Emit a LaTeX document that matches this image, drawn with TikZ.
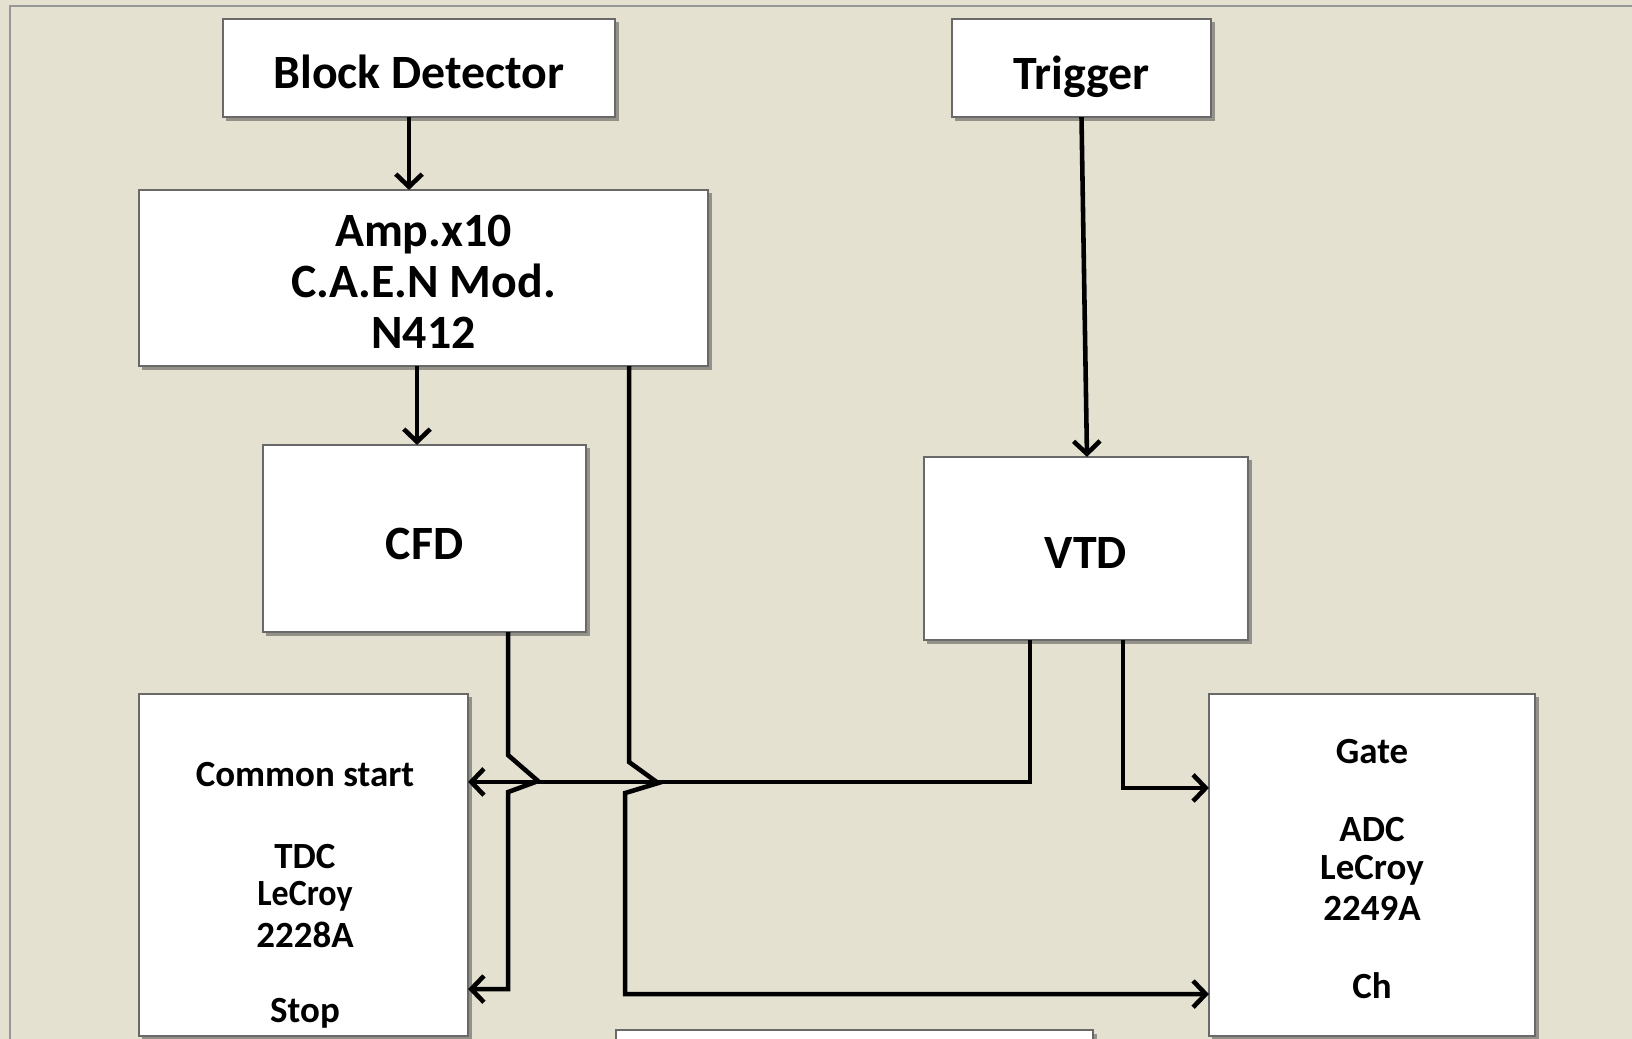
\documentclass[tikz,border=0pt]{standalone}
\usepackage{fontspec}
\setmainfont{Carlito}
\usetikzlibrary{arrows.meta,shadows}
\definecolor{bg}{RGB}{228,225,209}
\definecolor{framec}{RGB}{150,150,150}
\definecolor{boxline}{RGB}{105,105,105}
\newcommand{\dn}[2]{\raisebox{-#1}[\height][\depth]{#2}}
\begin{document}
\begin{tikzpicture}[x=0.01cm,y=-0.01cm,
  box/.style={draw=boxline, line width=0.6pt, fill=white, inner sep=0pt, outer sep=0pt,
    font=\bfseries\fontsize{13.6}{14.5}\selectfont, align=center,
    drop shadow={shadow xshift=0.35mm, shadow yshift=-0.35mm, opacity=0.35, fill=black}},
  lbl/.style={font=\bfseries\fontsize{10.5}{12}\selectfont, inner sep=0pt},
  conn/.style={line width=1.3pt, black, line join=miter},
  arr/.style={conn, -{Straight Barb[length=3.6pt,width=7.5pt,line width=1.3pt]}}]
\clip (0,0) rectangle (1632,1039);
\fill[bg] (0,0) rectangle (1632,1039);
\draw[framec, line width=0.6pt] (10,6) rectangle (1660,1070);

% boxes
\node[box, minimum width=39.2mm, minimum height=9.8mm] (bd) at (419,68) {\dn{0.42mm}{Block Detector}};
\node[box, minimum width=25.9mm, minimum height=9.8mm] (trig) at (1081.5,68) {\dn{0.83mm}{Trigger}};
\node[box, minimum width=56.9mm, minimum height=17.6mm] (amp) at (423.5,278) {\dn{0.94mm}{\begin{tabular}{@{}c@{}}Amp.x10\\C.A.E.N Mod.\\N412\end{tabular}}};
\node[box, minimum width=32.3mm, minimum height=18.7mm] (cfd) at (424.5,538.5) {\dn{0.52mm}{CFD}};
\node[box, minimum width=32.4mm, minimum height=18.3mm] (vtd) at (1086,548.5) {\dn{0.42mm}{VTD}};
\node[box, minimum width=32.9mm, minimum height=34.2mm] (tdc) at (303.5,865) {};
\node[box, minimum width=32.6mm, minimum height=34.2mm] (adc) at (1372,865) {};
\node[box, minimum width=47.7mm, minimum height=3mm] (bot) at (854.5,1045) {};

% TDC labels
\node[lbl] (tdcA) at (305,775) {Common start};
\node[lbl] (tdcB) at (305,857) {TDC};
\node[lbl] (tdcC) at (305,896) {\scalebox{0.92}[1]{LeCroy}};
\node[lbl] (tdcD) at (305,935) {2228A};
\node[lbl] (tdcE) at (305,1013) {Stop};
% ADC labels
\node[lbl] (adcA) at (1372,752) {Gate};
\node[lbl] (adcB) at (1372,830) {ADC};
\node[lbl] (adcC) at (1372,870) {LeCroy};
\node[lbl] (adcD) at (1372,908) {2249A};
\node[lbl] (adcE) at (1372,986) {Ch};

% connectors
\draw[arr] ([xshift=-1mm]bd.south) -- ([xshift=-1mm]bd.south |- amp.north);
\draw[arr] ([xshift=-0.65mm]amp.south) -- ([xshift=-0.65mm]amp.south |- cfd.north);
\draw[arr] (trig.south) -- ([xshift=0.1mm]vtd.north);
\draw[arr] ([xshift=-5.6mm]vtd.south) |- ([yshift=8.3mm]tdc.east);
\draw[arr] ([xshift=3.7mm]vtd.south) |- ([yshift=7.7mm]adc.west);
\draw[arr] ([xshift=8.35mm]cfd.south) -- ++(0,123) -- ++(30,26) -- ++(-30,11) |- ([yshift=-12.4mm]tdc.east);
\draw[arr] ([xshift=20.55mm]amp.south) -- ++(0,396) -- ++(29,21) -- ++(-33,10) |- ([yshift=-12.9mm]adc.west);
\end{tikzpicture}
\end{document}
